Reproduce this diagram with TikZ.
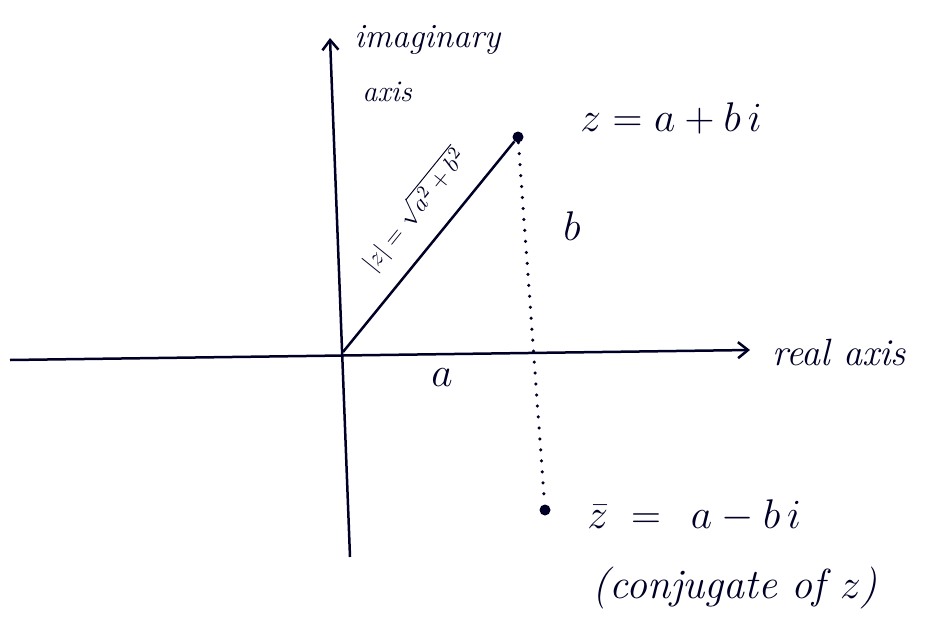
\documentclass[tikz,border=0pt]{standalone}
\usetikzlibrary{arrows.meta}
\begin{document}
\begin{tikzpicture}[x=1pt,y=-1pt,
  ink/.style={draw=black!85!blue, line width=2.5pt},
  dotpt/.style={circle, fill=black!85!blue, inner sep=0pt, minimum size=11pt},
  lbl/.style={text=black!85!blue, font=\fontsize{20}{24}\selectfont, inner sep=1pt, scale=2},
  slbl/.style={text=black!85!blue, font=\fontsize{17}{20}\selectfont\itshape, inner sep=1pt, scale=2},
  arr/.style={-{Straight Barb[length=10pt, width=16pt]}}]
\useasboundingbox (0,0) rectangle (933,634);
% axes
\coordinate (O) at (343,352);
\coordinate (xl) at (10,360);
\coordinate (xr) at (750,350);
\coordinate (yb) at (350,557);
\coordinate (yt) at (330,38);
\draw[ink, arr] (xl) -- (xr);
\draw[ink, arr] (yb) -- (yt);
% points
\node[dotpt] (z) at (518,137) {};
\node[dotpt] (zb) at (545,510) {};
\draw[ink] (O) -- (z);
\draw[ink, dotted, line width=3.5pt, line cap=round, dash pattern=on 0pt off 11pt] (z) -- (zb);
% labels
\node[slbl, anchor=west] (imag) at (352,40) {imaginary};
\node[slbl, anchor=west, font=\fontsize{15}{18}\selectfont\itshape] (axs) at (360,92) {axis};
\node[slbl, anchor=west, font=\fontsize{19}{22}\selectfont\itshape] (real) at (770,352) {real axis};
\node[lbl, anchor=west] (zl) at (578,118) {$z = a+b\,i$};
\node[lbl] (bl) at (572,226) {$b$};
\node[lbl] (al) at (442,378) {$a$};
\node[lbl, rotate=51, font=\fontsize{13}{16}\selectfont] (mod) at (414,210) {$|z| = \sqrt{a^2+b^2}$};
\node[lbl, anchor=west] (zbl) at (585,516) {$\bar{z}\;=\;\,a - b\,i$};
\node[lbl, anchor=west, font=\fontsize{21}{25}\selectfont\itshape] (conj) at (590,588) {(conjugate of $z$)};
\end{tikzpicture}
\end{document}
